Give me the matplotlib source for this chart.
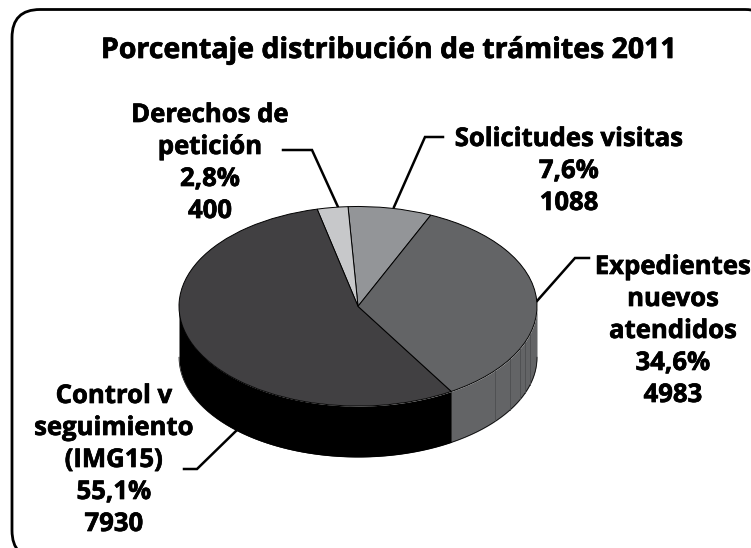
import numpy as np
import matplotlib
matplotlib.use("Agg")
import matplotlib.pyplot as plt
import matplotlib.patheffects as pe
from matplotlib.patches import FancyBboxPatch

W, H = 751, 548

title = "Porcentaje distribución de trámites 2011"

# pie order, counter clockwise from the start angle
categories = ["Solicitudes visitas", "Derechos de\npetición", "Control v\nseguimiento\n(IMG15)", "Expedientes\nnuevos\natendidos"]
percents = ["7,6%", "2,8%", "55,1%", "34,6%"]
counts = [1088, 400, 7930, 4983]

top_colors = ["#939598", "#c7c8ca", "#414042", "#636466"]
side_colors = ["#939598", "#c7c8ca", "#000000", "#636466"]

start_angle = 66
depth = 0.51

# faint seams on the grey wall, degrees
seam_angles = [320, 328, 335, 339, 344]

# label centre x, first line baseline y (pixels)
label_pos = [(569, 146), (210, 122), (114, 403), (673, 274)]
leaders = [
    ([443, 425, 394], [137, 137, 207]),
    ([283, 312, 338], [150, 150, 207]),
    ([184, 197, 237], [469, 469, 430]),
    ([589, 575, 537], [258, 258, 301]),
]

plt.rcParams["font.family"] = ["Open Sans", "DejaVu Sans"]

fig = plt.figure(figsize=(W / 100, H / 100), dpi=100)

# whole figure layer in pixel coords
bg = fig.add_axes([0, 0, 1, 1])
bg.set_xlim(0, W)
bg.set_ylim(H, 0)
bg.axis("off")

# frame runs past the right and bottom edges of the picture
frame = FancyBboxPatch((12, 9.5), 761, 549, boxstyle="round,pad=0,rounding_size=28",
                       fc="white", ec="black", lw=2)
bg.add_patch(frame)

heavy = [pe.withStroke(linewidth=0.5, foreground="black")]

bg.text(389, 58, title, ha="center", va="baseline", fontsize=20.5, fontweight="bold",
        path_effects=heavy)

for cat, pct, n, (x, y) in zip(categories, percents, counts, label_pos):
    lines = cat.split("\n") + [pct, str(n)]
    for i, line in enumerate(lines):
        bg.text(x, y + i * 32, line, ha="center", va="baseline", fontsize=18.5, fontweight="bold",
                path_effects=heavy)

for xs, ys in leaders:
    bg.plot(xs, ys, color="black", lw=1.8, solid_joinstyle="miter")

# pie layer, squashed by the axes shape (x 179-537, y 206.5-457)
px0, px1, py0, py1 = 179, 537, 206.5, 457
ax = fig.add_axes([px0 / W, 1 - py1 / H, (px1 - px0) / W, (py1 - py0) / H])
ax.patch.set_alpha(0)

fracs = np.array(counts) / sum(counts)
edges = start_angle + 360 * np.concatenate([[0], np.cumsum(fracs)])

# side wall, only the part that faces the viewer
for a0, a1, col in zip(edges[:-1], edges[1:], side_colors):
    lo = max(a0, 180)
    hi = min(a1, 360)
    if hi > lo:
        t = np.radians(np.linspace(lo, hi, 200))
        ax.fill_between(np.cos(t), np.sin(t), np.sin(t) - depth, color=col, lw=0)
        ax.plot(np.cos(t), np.sin(t) - depth, color="black", lw=0.5)

for a in seam_angles:
    t = np.radians(a)
    ax.plot([np.cos(t)] * 2, [np.sin(t), np.sin(t) - depth], color="#4d4e50", lw=0.6)

ax.pie(counts, startangle=start_angle, colors=top_colors, radius=1,
       wedgeprops={"edgecolor": "black", "linewidth": 0.7})
ax.set_aspect("auto")
ax.set_xlim(-1, 1)
ax.set_ylim(-1 - depth, 1)
ax.axis("off")
for art in ax.patches + ax.lines:
    art.set_clip_on(False)

fig.savefig("out.png", dpi=100)
